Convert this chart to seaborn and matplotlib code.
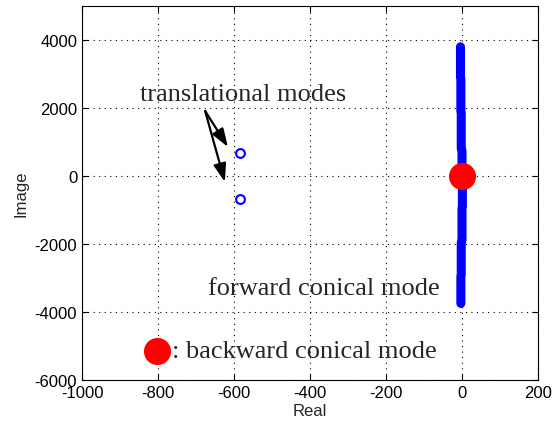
import matplotlib
matplotlib.use("Agg")
import matplotlib.pyplot as plt
import seaborn as sns
import pandas as pd

# forward conical mode eigenvalues (real, imag)
fwd_real = [-4, -4, -3, -3, -2, -2, 0, 0, 1, 1, 0, 0, -2, -2, -3, -3]
fwd_imag = [3800, 2900, 2850, 1900, 1850, 800, 750, 100, 0, -900, -950, -1900, -1950, -2900, -2950, -3750]
# translational modes
trans_real = [-585, -585]
trans_imag = [690, -680]
# backward conical mode
bwd_real = [0]
bwd_imag = [0]

xticks = [-1000, -800, -600, -400, -200, 0, 200]
yticks = [-6000, -4000, -2000, 0, 2000, 4000]

sns.set_style("ticks")
plt.rcParams["font.family"] = ["Liberation Sans", "DejaVu Sans"]

fig = plt.figure(figsize=(5.6, 4.27), dpi=100)
ax = fig.add_axes([82/560, 1-381/427, 456/560, 374/427])

fwd = pd.DataFrame({"Real": fwd_real, "Image": fwd_imag})
sns.lineplot(data=fwd, x="Real", y="Image", sort=False, estimator=None,
             color="#0000ff", linewidth=6.5, solid_capstyle="round", ax=ax, zorder=3)

tr = pd.DataFrame({"Real": trans_real, "Image": trans_imag})
sns.scatterplot(data=tr, x="Real", y="Image", marker="o", s=40,
                facecolor="white", edgecolor="#0000ff", linewidth=1.5, ax=ax, zorder=4)

bw = pd.DataFrame({"Real": bwd_real, "Image": bwd_imag})
sns.scatterplot(data=bw, x="Real", y="Image", marker="o", s=380,
                color="#ff0000", edgecolor="#ff0000", linewidth=0, ax=ax, zorder=5)

# legend-like marker
ax.scatter([-803], [-5150], s=380, color="#ff0000", linewidth=0, zorder=5, clip_on=False)

serif = ["Liberation Serif", "DejaVu Serif"]
ax.text(-763, -5150, ": backward conical mode", fontsize=19, family=serif, va="center", ha="left")
ax.text(-668, -3294, "forward conical mode", fontsize=19, family=serif, va="center", ha="left")
ax.text(-847, 2412, "translational modes", fontsize=19, family=serif, va="center", ha="left")

for hx, hy in [(-616, 853), (-624, -176)]:
    ax.annotate("", xy=(hx, hy), xytext=(-676, 1912),
                arrowprops=dict(arrowstyle="-|>,head_length=1.1,head_width=0.38",
                                color="black", lw=1.6, shrinkA=0, shrinkB=0))

ax.set_xlim(-1000, 200)
ax.set_ylim(-6000, 5000)
ax.set_xticks(xticks)
ax.set_yticks(yticks)
ax.set_xticklabels([str(v) for v in xticks])
ax.set_yticklabels([str(v) for v in yticks])
ax.grid(True, color="black", linestyle=(0, (1, 4)), linewidth=0.8)
ax.tick_params(direction="in", length=4, width=0.8, labelsize=12, colors="black", top=True, right=True)
for s in ax.spines.values():
    s.set_color("black")
    s.set_linewidth(0.8)
ax.set_xlabel("Real", fontsize=12, labelpad=2)
ax.set_ylabel("Image", fontsize=12, labelpad=4)

fig.savefig("out.png", dpi=100)
